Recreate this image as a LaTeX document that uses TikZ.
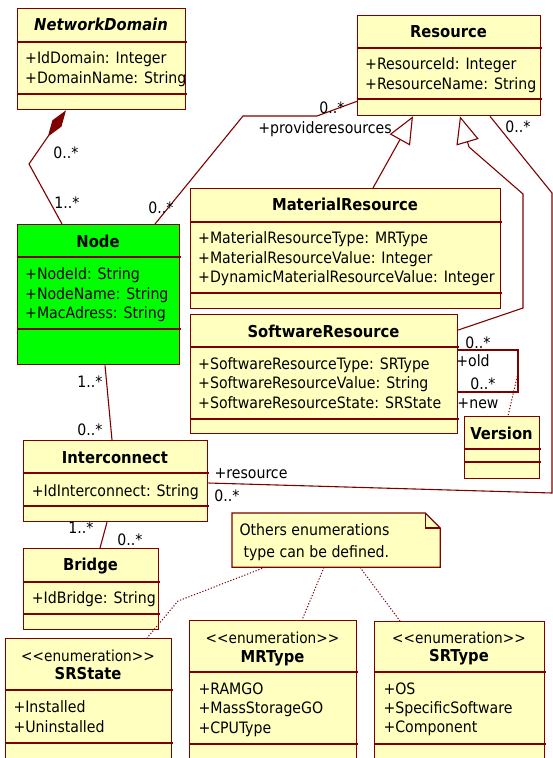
\documentclass[tikz,border=0pt]{standalone}
\usepackage{fontspec}
\setmainfont{DejaVu Sans Condensed}
\usetikzlibrary{arrows.meta}
\definecolor{umlred}{RGB}{128,0,0}
\definecolor{umlyellow}{RGB}{255,255,192}
\definecolor{umlgreen}{RGB}{0,255,0}
\tikzset{
    classbox/.style={draw=umlred, fill=umlyellow, line width=1.3pt, anchor=north west, inner sep=0pt},
    divider/.style={draw=umlred, line width=1.3pt},
    title/.style={font=\fontsize{16.4}{19}\selectfont\bfseries, inner sep=0pt, anchor=base},
    stereo/.style={font=\fontsize{15.2}{18}\selectfont, inner sep=0pt, anchor=base},
    attr/.style={font=\fontsize{15.7}{19}\selectfont, inner sep=0pt, anchor=base west},
    lbl/.style={font=\fontsize{15.7}{19}\selectfont, inner sep=0pt, anchor=base},
    assoc/.style={draw=umlred, line width=1.1pt},
    notelink/.style={draw=umlred, line width=1pt, dash pattern=on 1.2pt off 1.8pt},
    inherit/.style={assoc, -{Triangle[length=27pt, width=23pt, fill=white]}},
    compose/.style={assoc, {Diamond[length=32pt, width=11pt, fill=umlred]}-},
}

\begin{document}
\begin{tikzpicture}[x=1pt, y=-1pt]
                \useasboundingbox (0,0) rectangle (553,758);
                \node[classbox, minimum width=168pt, minimum height=101pt] (domain) at (17,8) {};
                \node[classbox, minimum width=183pt, minimum height=100pt] (resource) at (357,15) {};
                \node[classbox, fill=umlgreen, minimum width=162pt, minimum height=140pt] (node) at (17,224) {};
                \node[classbox, minimum width=310pt, minimum height=120pt] (material) at (190,188) {};
                \node[classbox, minimum width=267pt, minimum height=119pt] (software) at (190,314) {};
                \node[classbox, minimum width=75pt, minimum height=62pt] (version) at (464,416) {};
                \node[classbox, minimum width=184pt, minimum height=81pt] (interconnect) at (23,440) {};
                \node[classbox, minimum width=135pt, minimum height=81pt] (bridge) at (23,548) {};
                \node[classbox, minimum width=166pt, minimum height=124pt] (srstate) at (5,638) {};
                \node[classbox, minimum width=167pt, minimum height=142pt] (mrtype) at (189,620) {};
                \node[classbox, minimum width=170pt, minimum height=141pt] (srtype) at (374,621) {};

                \draw[divider] (17,42) -- (187,42) (17,94) -- (187,94);
                \draw[divider] (357,48) -- (542,48) (357,99) -- (542,99);
                \draw[divider] (17,257) -- (181,257) (17,329) -- (181,329);
                \draw[divider] (190,222) -- (502,222) (190,293) -- (502,293);
                \draw[divider] (190,347) -- (459,347) (190,419) -- (459,419);
                \draw[divider] (464,449) -- (541,449) (464,462) -- (541,462);
                \draw[divider] (23,473) -- (209,473) (23,506) -- (209,506);
                \draw[divider] (23,582) -- (160,582) (23,614) -- (160,614);
                \draw[divider] (5,690) -- (173,690) (5,743) -- (173,743);
                \draw[divider] (189,672) -- (358,672) (189,744) -- (358,744);
                \draw[divider] (374,672) -- (546,672) (374,744) -- (546,744);

                \node[title, font=\fontsize{16.4}{19}\selectfont\bfseries\itshape] (domainT) at (101,30.5) {NetworkDomain};
                \node[title] (resourceT) at (448.5,37.2) {Resource};
                \node[title] (nodeT) at (98,247) {Node};
                \node[title] (materialT) at (345,210.5) {MaterialResource};
                \node[title] (softwareT) at (323.5,337) {SoftwareResource};
                \node[title] (versionT) at (501.5,439) {Version};
                \node[title] (interconnectT) at (115,463) {Interconnect};
                \node[title] (bridgeT) at (90.5,570.5) {Bridge};
                \node[stereo] (srstateS) at (88,661.5) {<{}<enumeration>{}>};
                \node[title] (srstateT) at (88,679.5) {SRState};
                \node[stereo] (mrtypeS) at (272.5,643.8) {<{}<enumeration>{}>};
                \node[title] (mrtypeT) at (272.5,662.2) {MRType};
                \node[stereo] (srtypeS) at (459,643.2) {<{}<enumeration>{}>};
                \node[title] (srtypeT) at (459,661.2) {SRType};

                \foreach \txt [count=\i from 0] in {+IdDomain: Integer, +DomainName: String}
                    \node[attr] (domainA\i) at (25,63.8+20*\i) {\txt};
                \foreach \txt [count=\i from 0] in {+ResourceId: Integer, +ResourceName: String}
                    \node[attr] (resourceA\i) at (365,69.8+20*\i) {\txt};
                \foreach \txt [count=\i from 0] in {+NodeId: String, +NodeName: String, +MacAdress: String}
                    \node[attr] (nodeA\i) at (25,279.5+19.7*\i) {\txt};
                \foreach \txt [count=\i from 0] in {+MaterialResourceType: MRType, +MaterialResourceValue: Integer, +DynamicMaterialResourceValue: Integer}
                    \node[attr] (materialA\i) at (198,243.8+19.4*\i) {\txt};
                \foreach \txt [count=\i from 0] in {+SoftwareResourceType: SRType, +SoftwareResourceValue: String, +SoftwareResourceState: SRState}
                    \node[attr] (softwareA\i) at (198,369.5+19.4*\i) {\txt};
                \node[attr] (interconnectA0) at (31.7,496.2) {+IdInterconnect: String};
                \node[attr] (bridgeA0) at (31.7,603.8) {+IdBridge: String};
                \foreach \txt [count=\i from 0] in {+Installed, +Uninstalled}
                    \node[attr] (srstateA\i) at (13.3,712.5+20*\i) {\txt};
                \foreach \txt [count=\i from 0] in {+RAMGO, +MassStorageGO, +CPUType}
                    \node[attr] (mrtypeA\i) at (198.3,694.5+19.4*\i) {\txt};
                \foreach \txt [count=\i from 0] in {+OS, +SpecificSoftware, +Component}
                    \node[attr] (srtypeA\i) at (383.3,694.5+19.2*\i) {\txt};

                \node[classbox, draw=none, fill=none, minimum width=207pt, minimum height=53pt] (note) at (232,513) {};
                \draw[divider, fill=umlyellow] (note.north west) -- ([xshift=-15pt]note.north east) -- ([yshift=-15pt]note.north east) -- (note.south east) -- (note.south west) -- cycle;
                \draw[divider] ([xshift=-15pt]note.north east) -- ++(0,15) -- ([yshift=-15pt]note.north east);
                \node[attr] (noteL1) at (239.3,535) {Others enumerations};
                \node[attr] (noteL2) at (243.3,557.2) {type can be defined.};

                \coordinate (cmpbend) at (29,164);
                \coordinate (prv1) at (243,116);
                \coordinate (prv2) at (317,116);
                \coordinate (inh1) at (523,308);
                \coordinate (inh2) at (523,194);
                \coordinate (inh3) at (469,147);
                \coordinate (res1) at (552,193);
                \coordinate (res2) at (552,493);
                \coordinate (ver1) at (518,350);
                \coordinate (ver2) at (518,392);
                \coordinate (vermid) at (518,373);
                \coordinate (nt1) at (178,601);

                \draw[compose] ([xshift=49pt]domain.south west) -- (cmpbend) -- ([xshift=45pt]node.north west);
                \draw[assoc] ([xshift=138pt]node.north west) -- (prv1) -- (prv2) -- ([yshift=15pt]resource.south west);
                \draw[inherit] ([xshift=183pt]material.north west) -- ([xshift=56pt]resource.south west);
                \draw[inherit] ([yshift=-16pt]software.north east) -- (inh1) -- (inh2) -- (inh3) -- ([xshift=103pt]resource.south west);
                \draw[assoc] ([xshift=133pt]resource.south west) -- (res1) -- (res2) -- ([yshift=-43pt]interconnect.north east);
                \draw[assoc] ([xshift=88pt]node.south west) -- ([xshift=89pt]interconnect.north west);
                \draw[assoc] ([xshift=84pt]interconnect.south west) -- ([xshift=77pt]bridge.north west);
                \draw[assoc] ([yshift=-36pt]software.north east) -- (ver1) -- (ver2) -- ([yshift=-78pt]software.north east);
                \draw[notelink] (vermid) -- ([xshift=44pt]version.north west);
                \draw[notelink] ([xshift=33pt]note.south west) -- (nt1) -- ([xshift=142pt]srstate.north west);
                \draw[notelink] ([xshift=92pt]note.south west) -- ([xshift=113pt]mrtype.north west);
                \draw[notelink] ([xshift=128pt]note.south west) -- ([xshift=26pt]srtype.north west);

                \node[lbl] (m1) at (66,158.5) {0..*};
                \node[lbl] (m2) at (67,208.5) {1..*};
                \node[lbl] (m3) at (161,213.5) {0..*};
                \node[lbl] (m4) at (332,113.5) {0..*};
                \node[lbl] (r1) at (325,133.5) {+provideresources};
                \node[lbl] (m5) at (518,132.5) {0..*};
                \node[lbl] (m6) at (90,387.5) {1..*};
                \node[lbl] (m7) at (90,435.5) {0..*};
                \node[lbl] (r2) at (251,478.5) {+resource};
                \node[lbl] (m8) at (227,501.5) {0..*};
                \node[lbl] (m9) at (81,533.5) {1..*};
                \node[lbl] (m10) at (130,545.5) {0..*};
                \node[lbl] (m11) at (478,348.5) {0..*};
                \node[lbl] (r3) at (473,366) {+old};
                \node[lbl] (m12) at (483,389.5) {0..*};
                \node[lbl] (r4) at (478,408) {+new};
            \end{tikzpicture}
\end{document}
